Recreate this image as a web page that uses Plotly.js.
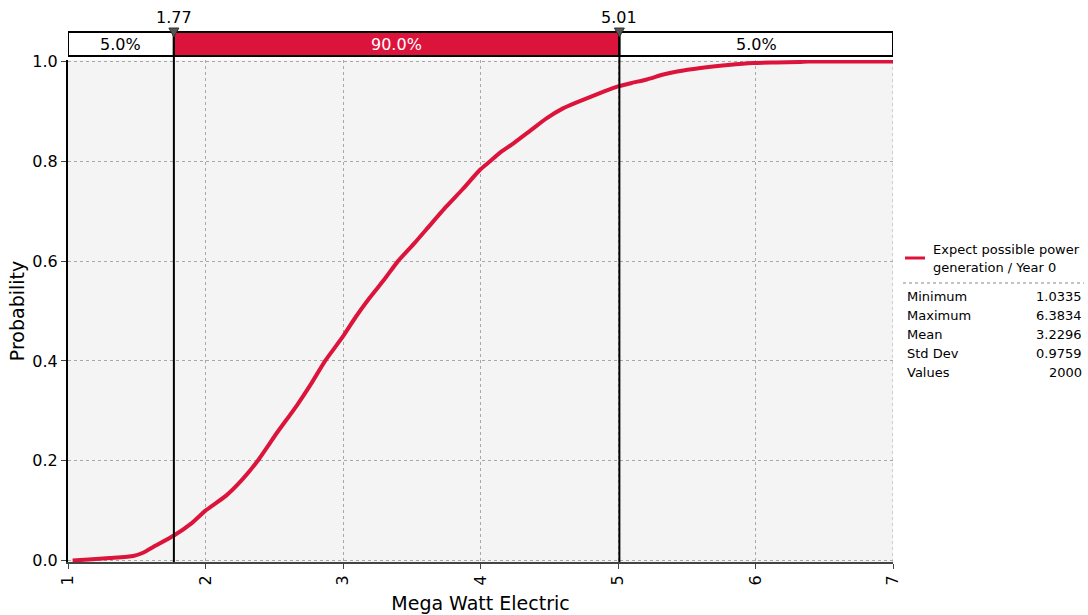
<!DOCTYPE html>
<html>
<head>
<meta charset="utf-8">
<script src="https://cdn.plot.ly/plotly-3.0.1.min.js"></script>
<style>html,body{margin:0;padding:0;background:#fff;}#chart{width:1088px;height:615px;}</style>
</head>
<body>
<div id="chart"></div>
<script>
// Cumulative distribution
const cdfX = [1.0335, 1.15, 1.305, 1.475, 1.55, 1.62, 1.77, 1.9, 2.0, 2.15, 2.27, 2.38, 2.52, 2.66, 2.77, 2.87, 3.0, 3.09, 3.19, 3.30, 3.40, 3.52, 3.63, 3.75, 3.87, 4.0, 4.07, 4.14, 4.24, 4.36, 4.48, 4.60, 4.70, 4.80, 4.90, 5.0, 5.10, 5.21, 5.33, 5.43, 5.6, 5.8, 5.98, 6.15, 6.32, 6.3834, 7.0];
const cdfY = [0.0, 0.002, 0.005, 0.009, 0.016, 0.027, 0.05, 0.075, 0.10, 0.13, 0.163, 0.20, 0.256, 0.309, 0.355, 0.40, 0.449, 0.487, 0.525, 0.563, 0.60, 0.636, 0.671, 0.709, 0.744, 0.784, 0.80, 0.817, 0.836, 0.861, 0.886, 0.906, 0.918, 0.929, 0.940, 0.950, 0.957, 0.964, 0.974, 0.980, 0.987, 0.993, 0.997, 0.998, 0.999, 1.0, 1.0];
const seriesName = ["Expect possible power", "generation / Year 0"];
const cutoffs = [1.77, 5.01];
const cutoffLabels = ["1.77", "5.01"];
const bandLabels = ["5.0%", "90.0%", "5.0%"];
const statLabels = ["Minimum", "Maximum", "Mean", "Std Dev", "Values"];
const statValues = ["1.0335", "6.3834", "3.2296", "0.9759", "2000"];
const xTitle = "Mega Watt Electric";
const yTitle = "Probability";

const RED = "#dc143c";
const FONT = "DejaVu Sans";
const xMin = 1, xMax = 7;
// paper coordinate helpers (plot area: left 68, right 893, top 60, bottom 562)
const px2paperX = p => (p - 68) / 825;
const py2paperY = p => (562 - p) / 502;

const bandTop = py2paperY(32), bandBot = py2paperY(56);
const bandEdges = [xMin, cutoffs[0], cutoffs[1], xMax];
const bandFill = ["#ffffff", RED, "#ffffff"];
const bandText = ["#000000", "#ffffff", "#000000"];

const shapes = [];
const annotations = [];

// extra dotted grid line at the right edge (x = 7)
shapes.push({type: "line", xref: "x", yref: "paper", x0: xMax, x1: xMax, y0: 0, y1: 1, line: {color: "#a8a8a8", width: 1, dash: "dot"}, layer: "below"});

// band rectangles
for (let i = 0; i < 3; i++) {
  shapes.push({type: "rect", xref: "x", yref: "paper", x0: bandEdges[i], x1: bandEdges[i+1], y0: bandBot, y1: bandTop,
    fillcolor: bandFill[i], line: {color: "#000", width: 2}, layer: "above"});
  annotations.push({xref: "x", yref: "paper", x: (bandEdges[i] + bandEdges[i+1]) / 2, y: (bandTop + bandBot) / 2,
    text: bandLabels[i], showarrow: false, font: {family: FONT, size: 16, color: bandText[i]}, xanchor: "center", yanchor: "middle"});
}
// cutoff lines, triangles, labels
cutoffs.forEach((c, i) => {
  shapes.push({type: "line", xref: "x", yref: "paper", x0: c, x1: c, y0: 0, y1: bandTop, line: {color: "#000", width: 2}, layer: "above"});
  const hw = 5 / 137.5;
  shapes.push({type: "path", xref: "x", yref: "paper",
    path: `M ${c - hw},${py2paperY(28)} L ${c + hw},${py2paperY(28)} L ${c},${py2paperY(37)} Z`,
    fillcolor: "#555", line: {color: "#333", width: 1}, layer: "above"});
  annotations.push({xref: "x", yref: "paper", x: c, y: py2paperY(17), text: cutoffLabels[i], showarrow: false,
    font: {family: FONT, size: 16, color: "#000"}, xanchor: "center", yanchor: "middle"});
});

// legend swatch + text
shapes.push({type: "line", xref: "paper", yref: "paper", x0: px2paperX(905), x1: px2paperX(925), y0: py2paperY(258), y1: py2paperY(258),
  line: {color: RED, width: 3}});
seriesName.forEach((t, i) => {
  annotations.push({xref: "paper", yref: "paper", x: px2paperX(931), y: py2paperY(249 + 18 * i), text: t, showarrow: false,
    font: {family: FONT, size: 13, color: "#000"}, xanchor: "left", yanchor: "middle"});
});
shapes.push({type: "line", xref: "paper", yref: "paper", x0: px2paperX(903), x1: px2paperX(1084), y0: py2paperY(283), y1: py2paperY(283),
  line: {color: "#888", width: 1, dash: "dot"}});
statLabels.forEach((t, i) => {
  const yy = py2paperY(296 + 19.2 * i);
  annotations.push({xref: "paper", yref: "paper", x: px2paperX(905), y: yy, text: t, showarrow: false,
    font: {family: FONT, size: 13, color: "#000"}, xanchor: "left", yanchor: "middle"});
  annotations.push({xref: "paper", yref: "paper", x: px2paperX(1084), y: yy, text: statValues[i], showarrow: false,
    font: {family: FONT, size: 13, color: "#000"}, xanchor: "right", yanchor: "middle"});
});

const trace = {
  x: cdfX, y: cdfY, type: "scatter", mode: "lines", name: seriesName.join(" "),
  line: {color: RED, width: 4, shape: "spline", smoothing: 0.5}, hoverinfo: "x+y", showlegend: false
};

const layout = {
  width: 1088, height: 615,
  margin: {l: 68, r: 195, t: 60, b: 53, pad: 0},
  paper_bgcolor: "#ffffff", plot_bgcolor: "#f4f4f4",
  showlegend: false,
  font: {family: FONT, size: 16, color: "#000"},
  xaxis: {
    range: [xMin, xMax], dtick: 1, tick0: 1, tickangle: -90,
    ticks: "outside", ticklen: 5, tickcolor: "#444",
    showline: true, linecolor: "#444", linewidth: 2,
    showgrid: true, gridcolor: "#a8a8a8", griddash: "dot", gridwidth: 1,
    zeroline: false,
    tickfont: {family: FONT, size: 16, color: "#000"},
    title: {text: xTitle, font: {family: FONT, size: 19, color: "#000"}, standoff: 12}
  },
  yaxis: {
    range: [-0.003, 1.003], tickvals: [0, 0.2, 0.4, 0.6, 0.8, 1.0], ticktext: ["0.0", "0.2", "0.4", "0.6", "0.8", "1.0"],
    ticks: "outside", ticklen: 5, tickcolor: "#444",
    showline: true, linecolor: "#000", linewidth: 2,
    showgrid: true, gridcolor: "#a8a8a8", griddash: "dot", gridwidth: 1,
    zeroline: false,
    tickfont: {family: FONT, size: 16, color: "#000"},
    title: {text: yTitle, font: {family: FONT, size: 19, color: "#000"}, standoff: 3}
  },
  shapes: shapes,
  annotations: annotations
};

Plotly.newPlot("chart", [trace], layout, {displayModeBar: false, staticPlot: true});
</script>
</body>
</html>
